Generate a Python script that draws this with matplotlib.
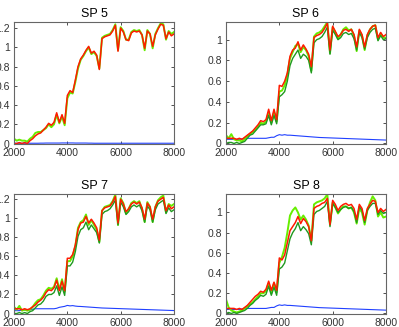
import matplotlib
matplotlib.use('Agg')
import matplotlib.pyplot as plt
import numpy as np

plt.rcParams['font.family'] = ['Liberation Sans', 'DejaVu Sans']

# wavelength grid, 2000..8000 step 100
wl = np.arange(2000, 8001, 100)

titles = ['SP 5', 'SP 6', 'SP 7', 'SP 8']

sp5_red = [0.00, 0.00, 0.01, 0.00, 0.01, 0.00, 0.03, 0.05, 0.08, 0.10,
           0.11, 0.14, 0.17, 0.21, 0.19, 0.22, 0.32, 0.22, 0.30, 0.21,
           0.50, 0.55, 0.53, 0.66, 0.80, 0.88, 0.92, 0.97, 1.01, 0.94,
           0.96, 0.92, 0.77, 1.09, 1.11, 1.12, 1.13, 1.17, 1.23, 0.96,
           1.20, 1.16, 1.08, 1.07, 1.15, 1.17, 1.16, 1.17, 1.13, 0.99,
           1.17, 1.14, 1.01, 1.13, 1.19, 1.24, 1.23, 1.09, 1.16, 1.12,
           1.14]
sp5_lime = [0.05, 0.03, 0.04, 0.03, 0.03, 0.02, 0.05, 0.07, 0.11, 0.12,
            0.12, 0.14, 0.16, 0.20, 0.17, 0.20, 0.30, 0.21, 0.28, 0.19,
            0.47, 0.53, 0.52, 0.64, 0.78, 0.87, 0.91, 0.96, 1.00, 0.93,
            0.95, 0.91, 0.78, 1.10, 1.12, 1.13, 1.14, 1.18, 1.24, 0.97,
            1.21, 1.17, 1.08, 1.08, 1.16, 1.18, 1.17, 1.18, 1.13, 0.97,
            1.18, 1.14, 0.99, 1.14, 1.20, 1.25, 1.24, 1.08, 1.17, 1.14,
            1.16]
sp5_green = None
sp5_blue = [0.003] * 10 + [0.004, 0.004, 0.005, 0.005, 0.005, 0.005, 0.005, 0.005, 0.006, 0.006,
                           0.006, 0.006, 0.006, 0.005, 0.005, 0.005, 0.005, 0.005, 0.004, 0.004] + [0.003] * 31

sp6_red = [0.05, 0.05, 0.05, 0.05, 0.04, 0.05, 0.04, 0.06, 0.08, 0.10,
           0.12, 0.15, 0.18, 0.22, 0.21, 0.23, 0.33, 0.22, 0.33, 0.23,
           0.56, 0.55, 0.60, 0.68, 0.84, 0.90, 0.92, 0.98, 0.90, 0.95,
           0.91, 0.86, 0.74, 1.02, 1.04, 1.05, 1.07, 1.11, 1.16, 0.90,
           1.13, 1.08, 1.03, 1.05, 1.09, 1.10, 1.08, 1.10, 1.05, 0.93,
           1.10, 1.05, 0.93, 1.05, 1.10, 1.13, 1.14, 1.02, 1.07, 1.03,
           1.05]
sp6_green = [0.00, 0.01, 0.01, 0.00, 0.01, 0.00, 0.01, 0.02, 0.05, 0.08,
             0.09, 0.12, 0.15, 0.18, 0.18, 0.19, 0.27, 0.18, 0.27, 0.19,
             0.45, 0.47, 0.50, 0.60, 0.75, 0.82, 0.86, 0.90, 0.82, 0.86,
             0.84, 0.80, 0.68, 0.97, 1.00, 1.01, 1.03, 1.07, 1.12, 0.86,
             1.09, 1.05, 1.00, 1.02, 1.06, 1.07, 1.05, 1.06, 1.01, 0.90,
             1.07, 1.02, 0.91, 1.02, 1.07, 1.10, 1.11, 0.99, 1.04, 1.00,
             1.01]
sp6_lime = [0.08, 0.05, 0.09, 0.04, 0.03, 0.03, 0.02, 0.04, 0.07, 0.09,
            0.11, 0.13, 0.16, 0.20, 0.19, 0.21, 0.30, 0.20, 0.30, 0.21,
            0.50, 0.51, 0.56, 0.66, 0.82, 0.88, 0.94, 0.96, 0.88, 0.93,
            0.90, 0.84, 0.70, 1.03, 1.06, 1.07, 1.09, 1.13, 1.17, 0.87,
            1.12, 1.07, 1.01, 1.05, 1.10, 1.12, 1.09, 1.10, 1.04, 0.89,
            1.09, 1.04, 0.90, 1.04, 1.10, 1.13, 1.14, 1.00, 1.06, 1.02,
            1.02]
sp6_blue = [0.040, 0.040, 0.040, 0.040, 0.040, 0.040, 0.045, 0.050, 0.050, 0.050,
            0.050, 0.050, 0.050, 0.050, 0.050, 0.050, 0.055, 0.060, 0.060, 0.075,
            0.085, 0.080, 0.085, 0.080, 0.080, 0.078, 0.076, 0.074, 0.072, 0.070,
            0.068, 0.066, 0.064, 0.062, 0.060, 0.058, 0.057, 0.056, 0.055, 0.054,
            0.053, 0.052, 0.051, 0.050, 0.049, 0.048, 0.047, 0.046, 0.045, 0.044,
            0.043, 0.042, 0.041, 0.040, 0.039, 0.038, 0.037, 0.036, 0.035, 0.034,
            0.033]

sp7_red = [0.05, 0.05, 0.05, 0.04, 0.05, 0.04, 0.05, 0.07, 0.09, 0.12,
           0.14, 0.17, 0.22, 0.25, 0.24, 0.27, 0.35, 0.24, 0.34, 0.24,
           0.58, 0.58, 0.62, 0.72, 0.88, 0.95, 0.96, 1.02, 0.95, 0.99,
           0.95, 0.90, 0.77, 1.08, 1.11, 1.12, 1.13, 1.17, 1.23, 0.95,
           1.20, 1.15, 1.07, 1.10, 1.15, 1.17, 1.15, 1.17, 1.11, 0.99,
           1.16, 1.12, 0.99, 1.12, 1.18, 1.20, 1.22, 1.08, 1.14, 1.10,
           1.12]
sp7_green = [0.00, 0.00, 0.01, 0.00, 0.01, 0.00, 0.02, 0.03, 0.06, 0.09,
             0.10, 0.13, 0.18, 0.20, 0.20, 0.22, 0.29, 0.19, 0.28, 0.19,
             0.50, 0.50, 0.54, 0.65, 0.81, 0.88, 0.90, 0.96, 0.88, 0.93,
             0.89, 0.85, 0.74, 1.04, 1.07, 1.08, 1.10, 1.14, 1.19, 0.93,
             1.17, 1.12, 1.04, 1.07, 1.12, 1.14, 1.12, 1.14, 1.08, 0.96,
             1.13, 1.09, 0.96, 1.09, 1.15, 1.17, 1.19, 1.05, 1.11, 1.07,
             1.09]
sp7_lime = [0.07, 0.04, 0.08, 0.03, 0.04, 0.03, 0.04, 0.07, 0.11, 0.14,
            0.15, 0.19, 0.24, 0.27, 0.26, 0.28, 0.37, 0.25, 0.36, 0.23,
            0.55, 0.55, 0.60, 0.71, 0.90, 0.96, 0.98, 1.04, 0.93, 0.98,
            0.93, 0.88, 0.75, 1.08, 1.12, 1.13, 1.14, 1.18, 1.25, 0.93,
            1.21, 1.16, 1.05, 1.10, 1.16, 1.18, 1.16, 1.18, 1.10, 0.96,
            1.17, 1.12, 0.96, 1.12, 1.19, 1.22, 1.24, 1.06, 1.15, 1.13,
            1.15]
sp7_blue = [0.030, 0.030, 0.030, 0.035, 0.035, 0.040, 0.040, 0.045, 0.050, 0.050,
            0.050, 0.050, 0.050, 0.050, 0.050, 0.050, 0.055, 0.065, 0.070, 0.075,
            0.085, 0.080, 0.083, 0.078, 0.075, 0.074, 0.072, 0.070, 0.068, 0.066,
            0.064, 0.062, 0.060, 0.058, 0.057, 0.056, 0.055, 0.054, 0.053, 0.052,
            0.051, 0.050, 0.049, 0.048, 0.047, 0.046, 0.045, 0.044, 0.043, 0.042,
            0.041, 0.040, 0.039, 0.038, 0.037, 0.036, 0.035, 0.034, 0.033, 0.032,
            0.031]

sp8_red = [0.05, 0.05, 0.05, 0.05, 0.04, 0.05, 0.04, 0.06, 0.08, 0.11,
           0.14, 0.17, 0.19, 0.22, 0.21, 0.24, 0.32, 0.23, 0.31, 0.23,
           0.55, 0.53, 0.58, 0.70, 0.82, 0.86, 0.90, 0.96, 0.89, 0.94,
           0.91, 0.86, 0.72, 1.04, 1.06, 1.07, 1.09, 1.10, 1.14, 0.88,
           1.12, 1.08, 1.02, 1.06, 1.08, 1.09, 1.07, 1.08, 1.04, 0.93,
           1.08, 1.04, 0.92, 1.04, 1.08, 1.12, 1.11, 1.00, 1.04, 1.01,
           1.03]
sp8_green = [0.00, 0.01, 0.00, 0.01, 0.00, 0.01, 0.02, 0.03, 0.05, 0.08,
             0.10, 0.13, 0.15, 0.18, 0.17, 0.19, 0.27, 0.18, 0.26, 0.18,
             0.44, 0.46, 0.50, 0.62, 0.74, 0.80, 0.84, 0.90, 0.82, 0.86,
             0.83, 0.79, 0.68, 0.98, 1.01, 1.02, 1.04, 1.06, 1.11, 0.86,
             1.09, 1.05, 1.00, 1.03, 1.05, 1.06, 1.04, 1.05, 1.01, 0.90,
             1.06, 1.02, 0.90, 1.02, 1.06, 1.09, 1.09, 0.98, 1.02, 0.99,
             1.00]
sp8_lime = [0.14, 0.06, 0.03, 0.02, 0.01, 0.02, 0.03, 0.05, 0.07, 0.09,
            0.11, 0.14, 0.17, 0.20, 0.20, 0.22, 0.30, 0.20, 0.30, 0.21,
            0.50, 0.56, 0.65, 0.80, 0.97, 1.02, 1.05, 1.00, 0.93, 0.97,
            0.93, 0.87, 0.72, 1.08, 1.10, 1.11, 1.12, 1.14, 1.18, 0.88,
            1.10, 1.05, 0.99, 1.03, 1.06, 1.06, 1.04, 1.05, 1.00, 0.89,
            1.04, 1.00, 0.88, 1.02, 1.10, 1.16, 1.12, 0.96, 1.00, 0.95,
            0.96]
sp8_blue = sp6_blue

panels = [
    (sp5_red, sp5_green, sp5_lime, sp5_blue),
    (sp6_red, sp6_green, sp6_lime, sp6_blue),
    (sp7_red, sp7_green, sp7_lime, sp7_blue),
    (sp8_red, sp8_green, sp8_lime, sp8_blue),
]
ytops = [1.26, 1.167, 1.252, 1.18]
ymaxtick = [1.2, 1.0, 1.2, 1.0]

fig = plt.figure(figsize=(3.99, 3.27), dpi=100)
positions = [
    [0.0351, 0.5596, 0.401, 0.372],
    [0.5664, 0.5596, 0.401, 0.372],
    [0.0351, 0.0398, 0.401, 0.366],
    [0.5664, 0.0398, 0.401, 0.366],
]

for i, pos in enumerate(positions):
    ax = fig.add_axes(pos)
    red, green, lime, blue = panels[i]
    ax.plot(wl, blue, color='#2040ff', lw=0.8)
    ax.plot(wl, lime, color='#66ee00', lw=1.4)
    if green is not None:
        ax.plot(wl, green, color='#1f9a1f', lw=1.0)
    ax.plot(wl, red, color='#ff1a00', lw=1.1)
    ax.set_xlim(2000, 8000)
    ax.set_ylim(-0.005, ytops[i])
    ax.set_xticks([2000, 4000, 6000, 8000])
    yt = np.arange(0, ymaxtick[i] + 0.01, 0.2)
    ax.set_yticks(yt)
    ax.set_yticklabels(['%g' % round(v, 1) for v in yt])
    ax.tick_params(direction='in', length=2.5, width=0.6, labelsize=7.5,
                   top=True, right=True, pad=3, colors='#333333')
    for s in ax.spines.values():
        s.set_color('#666666')
        s.set_linewidth(0.8)
    ax.set_title(titles[i], fontsize=9, pad=4)

fig.savefig('out.png', dpi=100)
